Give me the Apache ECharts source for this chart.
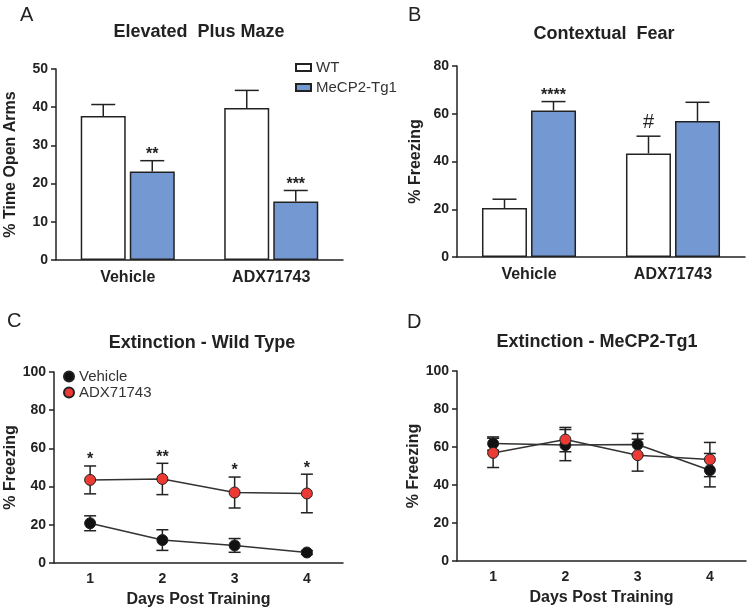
<!DOCTYPE html>
<html>
<head>
<meta charset="utf-8">
<script src="https://cdn.jsdelivr.net/npm/echarts@6/dist/echarts.min.js"></script>
<style>
html, body { margin: 0; padding: 0; background: #fff; }
#main { width: 750px; height: 612px; }
</style>
</head>
<body>
<div id="main"></div>
<script>
// A: elevated plus maze (% time open arms)
const groups = ['Vehicle', 'ADX71743']
const epmWt = [37.7, 39.8]
const epmWtSem = [3.0, 4.6]
const epmTg = [23.2, 15.3]
const epmTgSem = [2.8, 2.9]
const epmTgSig = ['**', '***']

// B: contextual fear (% freezing)
const cfWt = [20.5, 43.4]
const cfWtSem = [3.7, 7.2]
const cfWtSig = ['', '#']
const cfTg = [61.4, 57.0]
const cfTgSem = [3.7, 7.8]
const cfTgSig = ['****', '']

// C / D: extinction over days
const days = ['1', '2', '3', '4']
const wtVeh = [20.8, 12.0, 9.2, 5.5]
const wtVehSem = [3.9, 5.4, 3.6, 1.0]
const wtAdx = [43.5, 44.0, 36.9, 36.4]
const wtAdxSem = [7.3, 8.2, 8.1, 10.1]
const wtAdxSig = ['*', '**', '*', '*']
const tgVeh = [61.8, 61.0, 61.3, 47.8]
const tgVehSem = [3.5, 8.2, 5.8, 8.8]
const tgAdx = [56.9, 63.9, 55.7, 53.4]
const tgAdxSem = [7.7, 6.4, 8.4, 9.0]

const FONT = 'Arial, "Liberation Sans", sans-serif'
const INK = '#222'
const BLUE = '#7398d2'
const RED = '#ec3a35'

const catAxis = (gi, data, name) => ({
  type: 'category', gridIndex: gi, data,
  axisLine: { lineStyle: { color: INK, width: 1.5 } },
  axisTick: { alignWithLabel: true, length: 5, lineStyle: { color: INK, width: 1.5 } },
  axisLabel: { color: INK, fontWeight: 'bold', fontSize: name ? 14 : 16, margin: name ? 9 : 10, fontFamily: FONT },
  name, nameLocation: 'middle', nameGap: 29,
  nameTextStyle: { color: INK, fontWeight: 'bold', fontSize: 16, fontFamily: FONT }
})

const valAxis = (gi, max, interval, name, gap) => ({
  type: 'value', gridIndex: gi, min: 0, max, interval,
  axisLine: { show: true, lineStyle: { color: INK, width: 1.5 } },
  axisTick: { show: true, length: 5, lineStyle: { color: INK, width: 1.5 } },
  splitLine: { show: false },
  axisLabel: { color: INK, fontWeight: 'bold', fontSize: 14, margin: 8, fontFamily: FONT },
  name, nameLocation: 'middle', nameGap: gap,
  nameTextStyle: { color: INK, fontWeight: 'bold', fontSize: 16, fontFamily: FONT }
})

// error bar (+ optional significance mark) drawn through the axis scale
const errSeries = (gi, vals, sems, sigs, offset, capW, both) => ({
  type: 'custom', xAxisIndex: gi, yAxisIndex: gi, z: both ? 1 : 3, silent: true,
  data: vals.map((v, i) => [i, v, sems[i]]),
  renderItem: (params, api) => {
    const i = api.value(0), v = api.value(1), e = api.value(2)
    const mid = api.coord([i, v])
    const hi = api.coord([i, v + e])
    const lo = both ? api.coord([i, v - e]) : mid
    const x = mid[0] + offset
    const style = { stroke: INK, lineWidth: 1.5 }
    const children = [
      { type: 'line', shape: { x1: x, y1: lo[1], x2: x, y2: hi[1] }, style },
      { type: 'line', shape: { x1: x - capW / 2, y1: hi[1], x2: x + capW / 2, y2: hi[1] }, style }
    ]
    if (both) children.push({ type: 'line', shape: { x1: x - capW / 2, y1: lo[1], x2: x + capW / 2, y2: lo[1] }, style })
    const sig = sigs ? sigs[params.dataIndex] : ''
    if (sig) {
      const isHash = sig === '#'
      children.push({
        type: 'text',
        style: {
          text: sig, x, y: hi[1] - (isHash ? 14 : 6),
          textAlign: 'center', textVerticalAlign: 'middle',
          font: (isHash ? 'normal 20px ' : 'bold 16px ') + FONT, fill: INK
        }
      })
    }
    return { type: 'group', children }
  }
})

const barSeries = (gi, name, data, color) => ({
  type: 'bar', name, xAxisIndex: gi, yAxisIndex: gi, data,
  barWidth: 45, barGap: '9%',
  itemStyle: { color, borderColor: INK, borderWidth: 1.5 }
})

const lineSeries = (gi, name, data, color) => ({
  type: 'line', name, xAxisIndex: gi, yAxisIndex: gi, data,
  symbol: 'circle', symbolSize: 11, z: 2,
  itemStyle: { color, borderColor: '#222', borderWidth: 1 },
  lineStyle: { color: '#333', width: 1.5 }
})

const label = (text, x, y, font, align) => ({
  type: 'text', x, y,
  style: { text, font, fill: INK, textAlign: align || 'center', textVerticalAlign: 'middle' }
})

const chart = echarts.init(document.getElementById('main'))
chart.setOption({
  animation: false,
  backgroundColor: '#fff',
  grid: [
    { left: 56, top: 69, width: 287, height: 191 },
    { left: 457, top: 66, width: 288, height: 191 },
    { left: 54, top: 372, width: 289, height: 191 },
    { left: 457, top: 371, width: 289, height: 190 }
  ],
  xAxis: [
    catAxis(0, groups),
    catAxis(1, groups),
    catAxis(2, days, 'Days Post Training'),
    catAxis(3, days, 'Days Post Training')
  ],
  yAxis: [
    valAxis(0, 50, 10, '% Time Open Arms', 37),
    valAxis(1, 80, 20, '% Freezing', 33),
    valAxis(2, 100, 20, '% Freezing', 33),
    valAxis(3, 100, 20, '% Freezing', 35)
  ],
  legend: [
    {
      data: ['WT', 'MeCP2-Tg1'], orient: 'vertical', left: 295, top: 60, padding: 0,
      itemWidth: 15, itemHeight: 7, itemGap: 5, icon: 'rect',
      textStyle: { fontSize: 15, color: '#333', fontFamily: FONT }
    },
    {
      data: [{ name: 'Vehicle', icon: 'circle' }, { name: 'ADX71743', icon: 'circle' }],
      orient: 'vertical', left: 63, top: 369, padding: 0,
      itemWidth: 10, itemHeight: 10, itemGap: 1,
      textStyle: { fontSize: 15, color: '#333', fontFamily: FONT }
    }
  ],
  graphic: [
    label('A', 20, 15, 'normal 20px ' + FONT, 'left'),
    label('B', 408, 15, 'normal 20px ' + FONT, 'left'),
    label('C', 7, 321, 'normal 20px ' + FONT, 'left'),
    label('D', 407, 322, 'normal 20px ' + FONT, 'left'),
    label('Elevated  Plus Maze', 199, 32, 'bold 18px ' + FONT),
    label('Contextual  Fear', 604, 34, 'bold 18px ' + FONT),
    label('Extinction - Wild Type', 202, 343, 'bold 18px ' + FONT),
    label('Extinction - MeCP2-Tg1', 597, 342, 'bold 18px ' + FONT)
  ],
  series: [
    barSeries(0, 'WT', epmWt, '#fff'),
    barSeries(0, 'MeCP2-Tg1', epmTg, BLUE),
    errSeries(0, epmWt, epmWtSem, null, -24.5, 24, false),
    errSeries(0, epmTg, epmTgSem, epmTgSig, 24.5, 24, false),

    barSeries(1, 'WT', cfWt, '#fff'),
    barSeries(1, 'MeCP2-Tg1', cfTg, BLUE),
    errSeries(1, cfWt, cfWtSem, cfWtSig, -24.5, 24, false),
    errSeries(1, cfTg, cfTgSem, cfTgSig, 24.5, 24, false),

    errSeries(2, wtVeh, wtVehSem, null, 0, 12, true),
    errSeries(2, wtAdx, wtAdxSem, wtAdxSig, 0, 12, true),
    lineSeries(2, 'Vehicle', wtVeh, '#111'),
    lineSeries(2, 'ADX71743', wtAdx, RED),

    errSeries(3, tgVeh, tgVehSem, null, 0, 12, true),
    errSeries(3, tgAdx, tgAdxSem, null, 0, 12, true),
    lineSeries(3, 'Vehicle', tgVeh, '#111'),
    lineSeries(3, 'ADX71743', tgAdx, RED)
  ]
})
</script>
</body>
</html>
